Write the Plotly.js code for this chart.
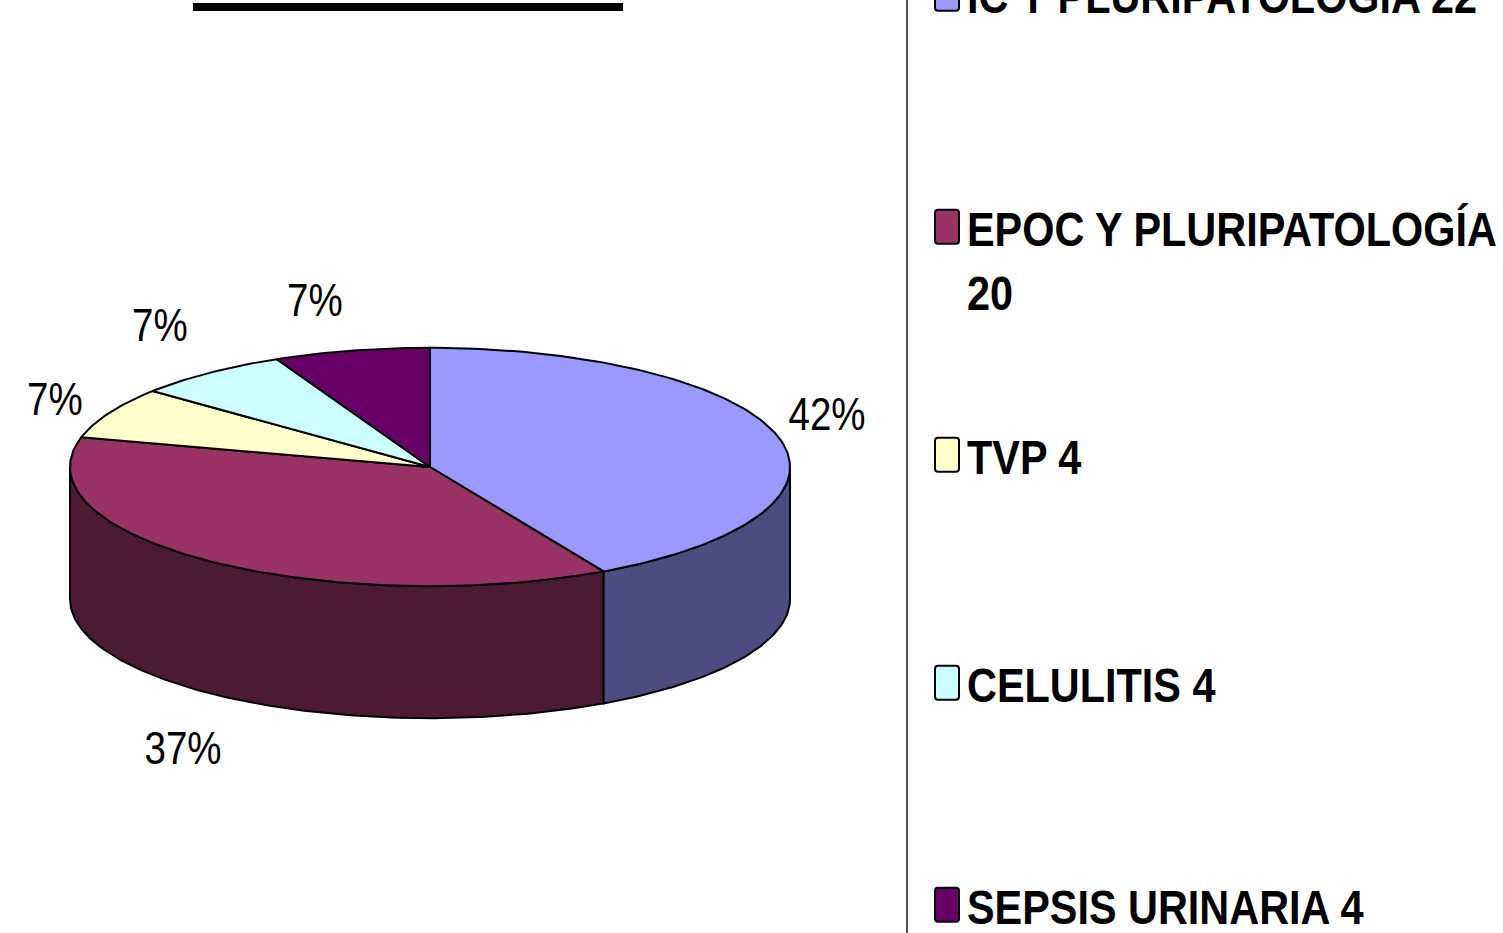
<!DOCTYPE html>
<html>
<head>
<meta charset="utf-8">
<script src="https://cdn.plot.ly/plotly-3.0.1.min.js"></script>
<style>
html, body { margin: 0; padding: 0; background: #ffffff; overflow: hidden; }
#chart { width: 1503px; height: 933px; }
</style>
</head>
<body>
<div id="chart"></div>
<script>
// ---- data ----
const categories = ["IC Y PLURIPATOLOGÍA", "EPOC Y PLURIPATOLOGÍA", "TVP", "CELULITIS", "SEPSIS URINARIA"];
const counts = [22, 20, 4, 4, 4];
const percents = [42, 37, 7, 7, 7];
const percentLabels = ["42%", "37%", "7%", "7%", "7%"];

// ---- styles ----
const topColors = ["#9999FF", "#993366", "#FFFFCC", "#CCFFFF", "#660066"];
const sideColors = ["#4C4C80", "#4D1A33", "#808066", "#668080", "#330033"];
const legendBreak = [false, true, false, false, false];
const legendCenterPx = [-6, 259, 455, 683, 905];
const labelShift = [[-21, 18], [18, -35], [10, 4], [-5, 30], [-21, 28]];

const W = 1503, H = 933;
const UNIT = 360;          // px per unit radius
const CX = 430, CY = 467;  // pie centre in px
const RY = 0.331;          // vertical squash of the ellipse
const DEPTH = 0.3667;      // thickness of the pie
const FONT = '"Liberation Sans", Arial, sans-serif';
const LEGEND_NARROW = 0.845; // condensed lettering of the reference
const LABEL_NARROW = 0.82;

const rad = d => d * Math.PI / 180;
const px = a => Math.sin(rad(a));
const py = a => RY * Math.cos(rad(a));

const total = percents.reduce((s, v) => s + v, 0);
let acc = 0;
const slices = percents.map(v => {
  const a0 = acc; acc += v / total * 360; return [a0, acc];
});

function arc(a0, a1, dy) {
  const xs = [], ys = [];
  const n = Math.max(2, Math.ceil(Math.abs(a1 - a0)));
  for (let i = 0; i <= n; i++) {
    const a = a0 + (a1 - a0) * i / n;
    xs.push(px(a)); ys.push(py(a) + dy);
  }
  return [xs, ys];
}

const traces = [];
// side walls (front half only)
slices.forEach(([a0, a1], i) => {
  const lo = Math.max(a0, 90), hi = Math.min(a1, 270);
  if (lo >= hi) return;
  const [tx, ty] = arc(lo, hi, 0);
  const [bx, by] = arc(hi, lo, -DEPTH);
  traces.push({
    type: 'scatter', mode: 'lines', fill: 'toself',
    x: tx.concat(bx, [tx[0]]), y: ty.concat(by, [ty[0]]),
    fillcolor: sideColors[i], line: { color: '#000000', width: 2 },
    showlegend: false, hoverinfo: 'skip'
  });
});
// top faces
slices.forEach(([a0, a1], i) => {
  const [ax, ay] = arc(a0, a1, 0);
  traces.push({
    type: 'scatter', mode: 'lines', fill: 'toself',
    x: [0].concat(ax, [0]), y: [0].concat(ay, [0]),
    fillcolor: topColors[i], line: { color: '#000000', width: 2 },
    showlegend: false, hoverinfo: 'skip'
  });
});
// legend entries
const legendKeys = categories.map((c, i) => i === 0 ? 'legend' : 'legend' + (i + 1));
categories.forEach((c, i) => {
  traces.push({
    type: 'scatter', mode: 'markers', x: [null], y: [null],
    name: c + (legendBreak[i] ? '<br>' : ' ') + counts[i],
    legend: legendKeys[i],
    marker: { symbol: 'square', size: 16, color: topColors[i], line: { color: '#000000', width: 2 } },
    showlegend: true, hoverinfo: 'skip'
  });
});

// percentage labels
const annotations = slices.map(([a0, a1], i) => {
  const m = (a0 + a1) / 2;
  const k = 1.2;
  let y = k * py(m);
  if (Math.cos(rad(m)) < 0) y -= DEPTH;
  return {
    x: k * px(m), y: y, xref: 'x', yref: 'y',
    text: percentLabels[i], showarrow: false,
    xshift: labelShift[i][0], yshift: labelShift[i][1],
    font: { family: FONT, size: 47, color: '#000000' }
  };
});

const layout = {
  width: W, height: H,
  margin: { l: 0, r: 0, t: 0, b: 0, autoexpand: false },
  paper_bgcolor: '#ffffff', plot_bgcolor: '#ffffff',
  hovermode: false,
  xaxis: { range: [-CX / UNIT, (W - CX) / UNIT], visible: false, fixedrange: true },
  yaxis: { range: [-(H - CY) / UNIT, CY / UNIT], visible: false, fixedrange: true },
  annotations: annotations,
  shapes: [
    { type: 'line', xref: 'paper', yref: 'paper', x0: 193 / W, x1: 623 / W, y0: 1 - 7 / H, y1: 1 - 7 / H,
      line: { color: '#000000', width: 8 } },
    { type: 'line', xref: 'paper', yref: 'paper', x0: 907 / W, x1: 907 / W, y0: 0, y1: 1,
      line: { color: '#555555', width: 2 } }
  ]
};
legendKeys.forEach((key, i) => {
  layout[key] = {
    x: 927 / W, xanchor: 'left',
    y: 1 - legendCenterPx[i] / H, yanchor: 'middle',
    valign: 'top', bgcolor: 'rgba(0,0,0,0)', borderwidth: 0,
    itemclick: false, itemdoubleclick: false,
    font: { family: FONT, size: 49, color: '#000000', weight: 700 }
  };
});

function squeeze(el, factor, centred) {
  if (el.getAttribute('data-narrow')) return;
  const bb = el.getBBox();
  const x0 = centred ? bb.x + bb.width / 2 : bb.x;
  const tr = el.getAttribute('transform') || '';
  el.setAttribute('transform', tr + ' translate(' + x0 + ',0) scale(' + factor + ',1) translate(' + (-x0) + ',0)');
  el.setAttribute('data-narrow', '1');
}
function restyleDom(gd) {
  // tall rounded legend swatches as in the reference
  gd.querySelectorAll('g.legendpoints path.scatterpts').forEach(p => {
    p.setAttribute('d', 'M-9,-17H9A3,3 0 0 1 12,-14V14A3,3 0 0 1 9,17H-9A3,3 0 0 1 -12,14V-14A3,3 0 0 1 -9,-17Z');
  });
  // condensed (Arial Narrow-like) lettering
  gd.querySelectorAll('svg text').forEach(t => {
    const s = (t.textContent || '').trim();
    try {
      if (categories.some(c => s.indexOf(c) === 0)) squeeze(t, LEGEND_NARROW, false);
      else if (percentLabels.indexOf(s) >= 0) squeeze(t, LABEL_NARROW, true);
    } catch (e) {}
  });
}

Plotly.newPlot('chart', traces, layout, { staticPlot: true, displayModeBar: false }).then(gd => {
  restyleDom(gd);
  setTimeout(() => restyleDom(gd), 100);
});
</script>
</body>
</html>
